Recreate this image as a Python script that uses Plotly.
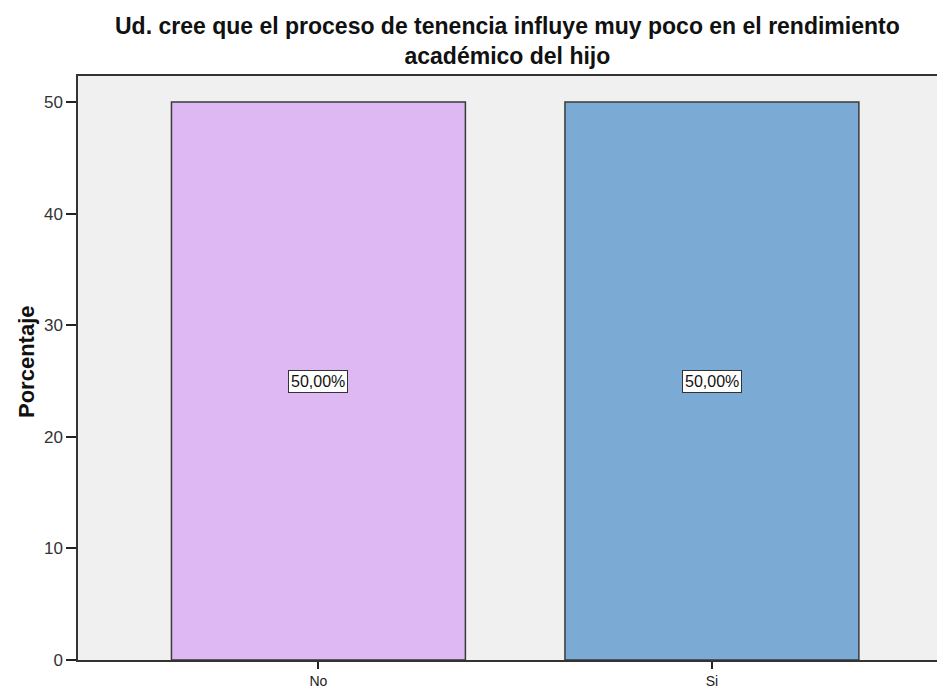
import plotly.graph_objects as go

# Survey answers and their share of respondents (%)
categories = ["No", "Si"]
percentages = [50.0, 50.0]
bar_colors = ["#DEB8F2", "#7BAAD5"]
y_ticks = [0, 10, 20, 30, 40, 50]

title_lines = [
    "Ud. cree que el proceso de tenencia influye muy poco en el rendimiento",
    "académico del hijo",
]
y_title = "Porcentaje"

FONT = "Liberation Sans, Arial, sans-serif"
W, H = 937, 688
M_L, M_R, M_T, M_B = 78, 0, 76, 28
PLOT_W = W - M_L - M_R
PLOT_H = H - M_T - M_B


def paper_x(px):
    return (px - M_L) / PLOT_W


def paper_y(py):
    return (H - M_B - py) / PLOT_H


x_pos = list(range(len(categories)))

fig = go.Figure()
fig.add_trace(go.Bar(
    x=x_pos,
    y=percentages,
    width=0.747,
    marker=dict(color=bar_colors, line=dict(color="#3a3a3a", width=1.5)),
    hoverinfo="skip",
))

# Value labels in white boxes at mid-height of each bar
for xi, v in zip(x_pos, percentages):
    fig.add_annotation(
        x=xi, y=v / 2, text=f"{v:.2f}".replace(".", ",") + "%",
        showarrow=False, bgcolor="white", bordercolor="#333333", borderwidth=1,
        borderpad=2, font=dict(family=FONT, size=16, color="#111111"),
    )

# Two-line chart title, centred over the plot area
fig.add_annotation(
    x=0.5, y=paper_y(41), xref="paper", yref="paper",
    xanchor="center", yanchor="middle", showarrow=False,
    text="<b>" + "<br>".join(title_lines) + "</b>",
    font=dict(family=FONT, size=23, color="#111111"),
)

# Vertical axis title
fig.add_annotation(
    x=paper_x(26), y=paper_y(362), xref="paper", yref="paper",
    xanchor="center", yanchor="middle", showarrow=False, textangle=-90,
    text=f"<b>{y_title}</b>", font=dict(family=FONT, size=22, color="#111111"),
)

fig.update_layout(
    width=W, height=H,
    margin=dict(l=M_L, r=M_R, t=M_T, b=M_B),
    paper_bgcolor="white",
    plot_bgcolor="#F0F0F0",
    showlegend=False,
    font=dict(family=FONT, size=16, color="#222222"),
)

fig.update_xaxes(
    range=[-0.611, 1.572],
    tickvals=x_pos, ticktext=categories,
    ticks="outside", ticklen=7, tickcolor="#222222", tickwidth=1.5,
    showline=True, linecolor="#333333", linewidth=1.5, mirror=True,
    showgrid=False, zeroline=False, automargin=False,
    tickfont=dict(family=FONT, size=14, color="#222222"),
)
fig.update_yaxes(
    range=[0, 52.33],
    tickvals=y_ticks,
    ticks="outside", ticklen=10, tickcolor="#222222", tickwidth=1.5,
    showline=True, linecolor="#333333", linewidth=1.5,
    showgrid=False, zeroline=False, automargin=False,
    tickfont=dict(family=FONT, size=17, color="#333333"),
)

fig.write_html("out.html")
